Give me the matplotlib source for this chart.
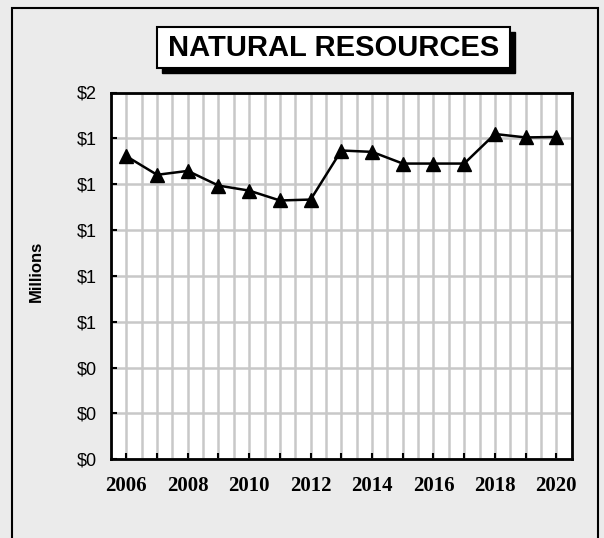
import matplotlib
matplotlib.use("Agg")
import matplotlib.pyplot as plt
from matplotlib.patches import Rectangle
from matplotlib.ticker import FuncFormatter, MultipleLocator

years = [2006, 2007, 2008, 2009, 2010, 2011, 2012, 2013, 2014, 2015, 2016, 2017, 2018, 2019, 2020]
values = [1.322, 1.241, 1.258, 1.194, 1.172, 1.129, 1.133, 1.347, 1.341, 1.290, 1.290, 1.290, 1.419, 1.404, 1.406]
xtick_labels = ["2006", "2008", "2010", "2012", "2014", "2016", "2018", "2020"]
title = "NATURAL RESOURCES"
ylabel = "Millions"

W, H = 604, 538
fig = plt.figure(figsize=(W / 100, H / 100), dpi=100)
fig.patch.set_facecolor("#EBEBEB")

# outer border
fig.patches.append(Rectangle((11.5 / W, -0.05), (598 - 11.5) / W, (H - 7.5) / H + 0.05,
                             transform=fig.transFigure, fill=False, edgecolor="black",
                             linewidth=1.5, zorder=0))

ax = fig.add_axes([111 / W, (H - 459.3) / H, (571.7 - 111) / W, (459.3 - 92.5) / H])
ax.set_facecolor("white")
ax.set_xlim(2005.5, 2020.5)
ax.set_ylim(0, 1.6)

ax.yaxis.set_major_locator(MultipleLocator(0.2))
ax.yaxis.set_major_formatter(FuncFormatter(lambda v, p: "$%d" % int(v + 0.5)))
ax.set_xticks(years)
ax.set_xticklabels([str(y) if str(y) in xtick_labels else "" for y in years])
ax.xaxis.set_minor_locator(MultipleLocator(0.5))

ax.grid(True, which="major", axis="y", color="#C8C8C8", linewidth=1.8, zorder=0)
ax.grid(True, which="both", axis="x", color="#C8C8C8", linewidth=1.8, zorder=0)
ax.set_axisbelow(True)

for s in ax.spines.values():
    s.set_linewidth(2)
    s.set_color("black")

ax.tick_params(axis="y", which="major", direction="in", length=4, width=1.5, pad=10,
               labelsize=13, labelfontfamily="Liberation Sans")
ax.tick_params(axis="x", which="major", direction="in", length=4, width=1.5, pad=12,
               labelsize=15)
ax.tick_params(axis="x", which="minor", length=0)
for lab in ax.get_xticklabels():
    lab.set_fontfamily("Liberation Serif")
    lab.set_fontweight("bold")

ax.plot(years, values, color="black", linewidth=1.8, marker="^", markersize=10,
        markerfacecolor="black", markeredgecolor="black", zorder=3, clip_on=False)

fig.text(36 / W, 1 - 271 / H, ylabel, rotation=90, ha="center", va="center",
         fontsize=12, fontweight="bold", fontfamily="Liberation Sans")

# title box with shadow
bx0, bx1, by0, by1 = 157.3, 510, 27.3, 68.3
sh = 4.5
fig.patches.append(Rectangle(((bx0 + sh) / W, 1 - (by1 + sh) / H), (bx1 - bx0) / W, (by1 - by0) / H,
                             transform=fig.transFigure, facecolor="black", edgecolor="black",
                             linewidth=1, zorder=1))
fig.patches.append(Rectangle((bx0 / W, 1 - by1 / H), (bx1 - bx0) / W, (by1 - by0) / H,
                             transform=fig.transFigure, facecolor="white", edgecolor="black",
                             linewidth=1.5, zorder=2))
fig.text((bx0 + bx1) / 2 / W, 1 - (by0 + by1) / 2 / H, title, ha="center", va="center",
         fontsize=21, fontweight="bold", fontfamily="Liberation Sans", zorder=3)

fig.savefig("out.png", dpi=100, facecolor=fig.get_facecolor())
